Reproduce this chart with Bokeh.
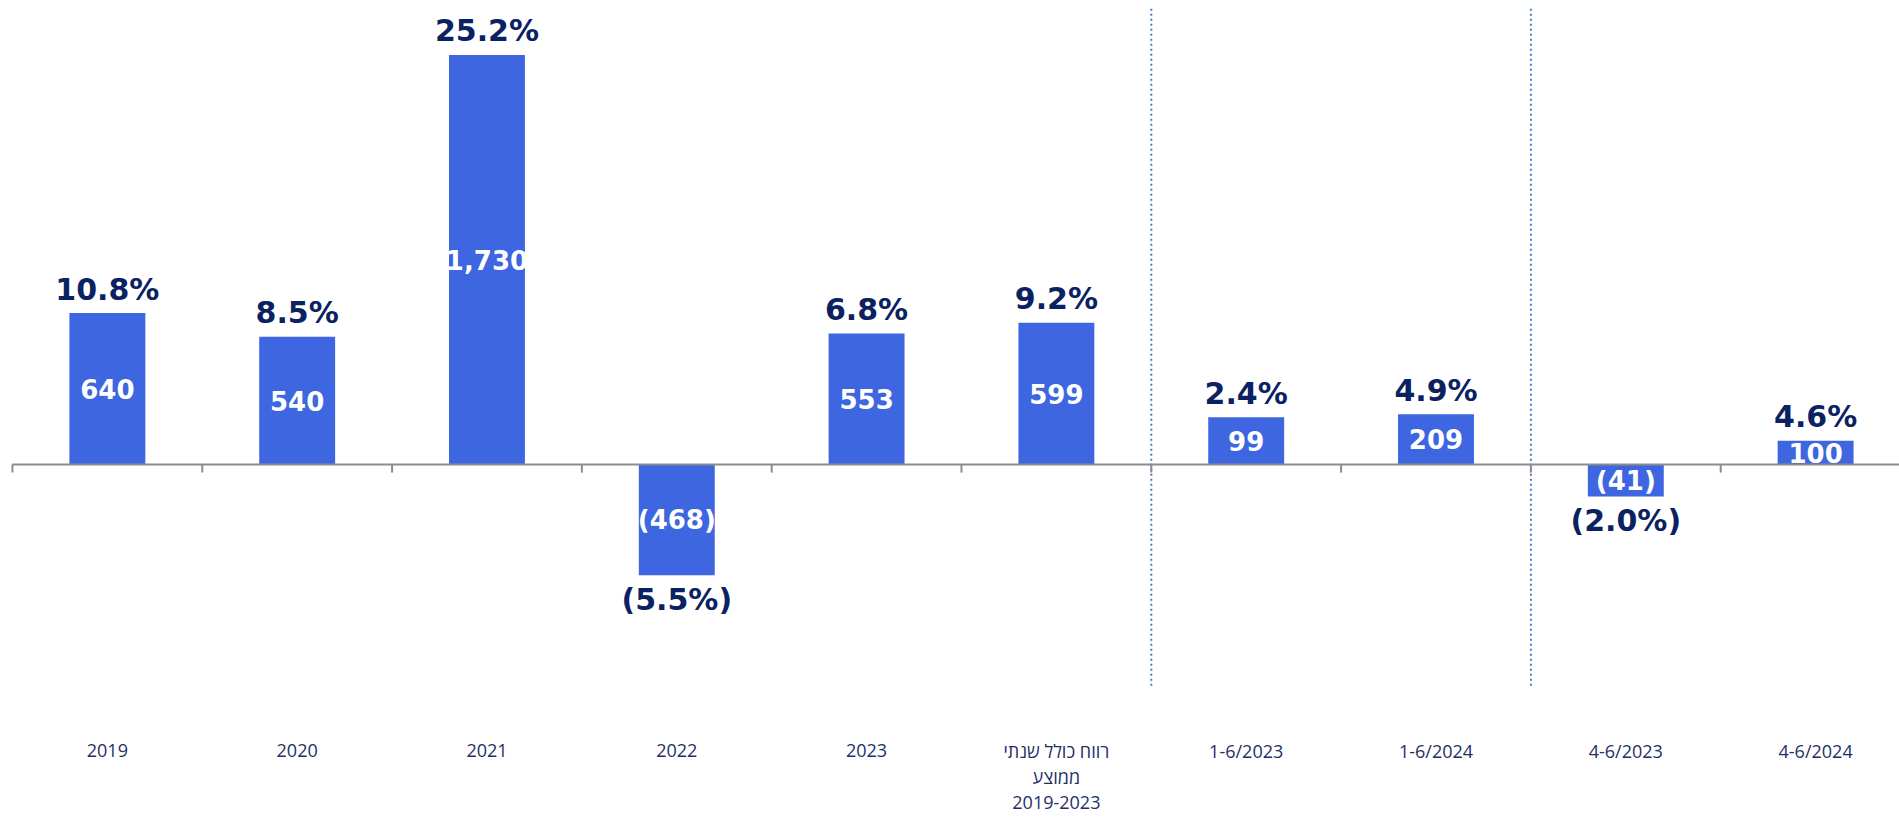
import numpy as np
from bokeh.plotting import figure
from bokeh.models import ColumnDataSource, Range1d
from bokeh.core.properties import value
from bokeh.embed import file_html
from bokeh.resources import INLINE

# ---- data ----
categories = ["2019", "2020", "2021", "2022", "2023",
              "רווח כולל שנתי\nממוצע\n2019-2023",
              "1-6/2023", "1-6/2024", "4-6/2023", "4-6/2024"]
profit = [640, 540, 1730, -468, 553, 599, 99, 209, -41, 100]          # value labels
bar_height = [640, 540, 1730, -468, 553, 599, 200, 212, -135, 100]    # drawn bar heights
margin_pct = [10.8, 8.5, 25.2, -5.5, 6.8, 9.2, 2.4, 4.9, -2.0, 4.6]
dividers = [5.5, 7.5]

# ---- styling / layout ----
W, H = 1899, 818
BAR = "#3d66e0"
NAVY = "#0b2262"
LABEL = "#1f2f68"
X0, X1 = -0.563, 9.442
Y0, Y1 = -1495, 1960
DIV_BOTTOM, DIV_TOP = -934, 1935
TICK_LEN = 34
CAT_OFFSET, CAT_LINE = 286, 26

def fmt_val(v):
    return f"{v:,}" if v >= 0 else f"({-v:,})"

def fmt_pct(v):
    return f"{v:.1f}%" if v >= 0 else f"({-v:.1f}%)"

xs = np.arange(len(categories))
h = np.array(bar_height, dtype=float)
src = ColumnDataSource(dict(
    x=xs, h=h, mid=h / 2,
    val=[fmt_val(v) for v in profit],
    pct=[fmt_pct(v) for v in margin_pct],
    pct_off=np.where(h >= 0, -24, 24),
))

# category labels, one text per line so every line shares the same baseline rule
cx, ctext, coff = [], [], []
for i, c in enumerate(categories):
    for j, line in enumerate(c.split("\n")):
        cx.append(i)
        ctext.append(line)
        coff.append(CAT_OFFSET + CAT_LINE * j)
cat_src = ColumnDataSource(dict(x=cx, text=ctext, off=coff))

p = figure(width=W, height=H, output_backend="svg", toolbar_location=None,
           x_range=Range1d(X0, X1), y_range=Range1d(Y0, Y1),
           x_axis_location=None, y_axis_location=None,
           min_border=0, outline_line_color=None, background_fill_color="white",
           border_fill_color="white")
p.xgrid.visible = False
p.ygrid.visible = False

# bars
p.vbar(x="x", top="h", bottom=0, width=0.4, source=src,
       fill_color=BAR, line_color=None)

# divider lines
p.segment(x0=dividers, y0=[DIV_BOTTOM] * len(dividers), x1=dividers, y1=[DIV_TOP] * len(dividers),
          line_color="#4a7ebb", line_width=2, line_dash="2 3")

# zero axis line with ticks at category boundaries
bounds = xs - 0.5
p.segment(x0=[bounds[0]], y0=[0], x1=[X1], y1=[0], line_color="#8c8c8c", line_width=2)
p.segment(x0=bounds, y0=np.zeros(len(bounds)), x1=bounds, y1=np.full(len(bounds), -TICK_LEN),
          line_color="#8c8c8c", line_width=2)

# value labels inside bars
p.text(x="x", y="mid", text="val", source=src,
       text_font=value("DejaVu Sans"), text_font_style="bold", text_font_size="26px",
       text_color="white", text_align="center", text_baseline="middle")

# percentage labels
p.text(x="x", y="h", text="pct", source=src, y_offset="pct_off",
       text_font=value("DejaVu Sans"), text_font_style="bold", text_font_size="30px",
       text_color=NAVY, text_align="center", text_baseline="middle")

# category labels
p.text(x="x", y=0, text="text", source=cat_src, y_offset="off",
       text_font=value("Open Sans"), text_font_size="18px",
       text_color=LABEL, text_align="center", text_baseline="alphabetic")

open("out.html", "w").write(file_html(p, INLINE))
